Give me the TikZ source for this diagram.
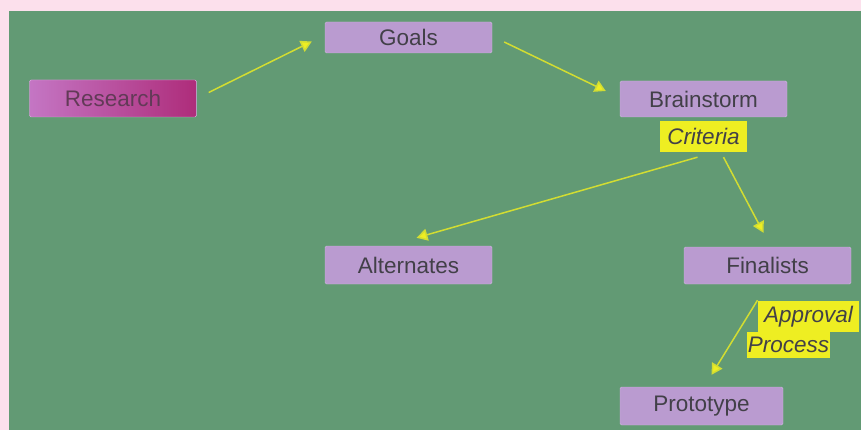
\documentclass[tikz,border=0pt]{standalone}
\usepackage{fontspec}
\setmainfont{Liberation Sans}
\usetikzlibrary{arrows.meta, positioning}
\definecolor{bgPink}{HTML}{FCE0EC}
\definecolor{bgGreen}{HTML}{629A74}
\definecolor{mLilac}{HTML}{BA9BD0}
\definecolor{mYellow}{HTML}{EEEE22}
\definecolor{mText}{HTML}{424048}
\definecolor{mPlumL}{HTML}{C476C4}
\definecolor{mPlumR}{HTML}{AE2C7A}

\begin{document}
\begin{tikzpicture}[x=1pt, y=-1pt,
    stage/.style={draw=mLilac!70!white, fill=mLilac, rounded corners=1.5pt,
      minimum width=167pt, minimum height=36pt, inner sep=0pt, text=mText,
      font=\fontsize{22.5}{26}\selectfont},
    tag/.style={fill=mYellow, inner sep=0pt, text=mText,
      font=\fontsize{22.5}{26}\selectfont\itshape},
    flow/.style={draw=mYellow!80!bgGreen, line width=1.5pt,
      -{Triangle[width=12pt,length=11pt,fill=mYellow]}}]
  % background
  \fill[bgPink] (0,0) rectangle (861,430);
  \fill[bgGreen] (9,11) rectangle (861,430);

  % stages
  \node[stage, minimum height=37pt, left color=mPlumL, right color=mPlumR,
        draw=mPlumL!60!white, text=mPlumR!30!mText] (res) at (113,98.5) {Research};
  \node[stage, minimum height=31pt] (goals) at (408.5,37.5) {Goals};
  \node[stage] (brain) at (703.5,99) {Brainstorm};
  \node[stage, minimum height=38pt] (alt) at (408.5,265) {Alternates};
  \node[stage, minimum height=37pt] (fin) at (767.5,265.5) {Finalists};
  \node[stage, minimum width=163pt, minimum height=38pt] (proto) at (701.5,406) {Prototype};

  % labels
  \node[tag, minimum width=87pt, minimum height=31pt] (crit) at (703.5,136.5) {Criteria};
  \node[tag, minimum width=101pt, minimum height=31pt] (appr) at (808.5,316.5) {Approval};
  \node[tag, minimum width=83pt, minimum height=26pt] (proc) at (788.5,345) {Process};

  % arrows
  \draw[flow] ([xshift=12pt,yshift=6pt]res.east) -- ([xshift=-13pt,yshift=-4pt]goals.west);
  \draw[flow] ([xshift=12pt,yshift=-4.5pt]goals.east) -- ([xshift=-14pt,yshift=8pt]brain.west);
  \draw[flow] ([xshift=-6pt,yshift=-5pt]crit.south) -- ([xshift=8pt,yshift=8pt]alt.north);
  \draw[flow] ([xshift=20pt,yshift=-5pt]crit.south) -- ([xshift=-4pt,yshift=14pt]fin.north);
  \draw[flow] ([xshift=-10pt,yshift=-16pt]fin.south) -- ([xshift=10pt,yshift=12pt]proto.north);
\end{tikzpicture}
\end{document}
